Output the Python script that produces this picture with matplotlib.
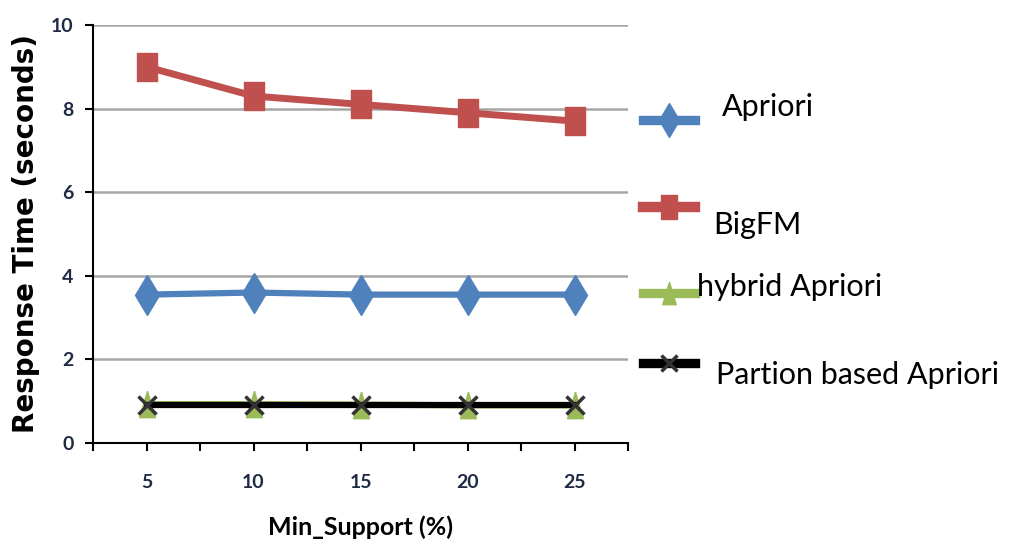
import matplotlib
matplotlib.use('Agg')
import matplotlib.pyplot as plt
from matplotlib.lines import Line2D

# data
min_support = [5, 10, 15, 20, 25]
apriori = [3.55, 3.6, 3.55, 3.55, 3.55]
bigfm = [9.0, 8.3, 8.1, 7.9, 7.7]
hybrid_apriori = [0.93, 0.93, 0.92, 0.9, 0.9]
partition_apriori = [0.9, 0.9, 0.9, 0.9, 0.9]
series_names = ['Apriori', 'BigFM', 'hybrid Apriori', 'Partion based Apriori']
y_ticks = [0, 2, 4, 6, 8, 10]

plt.rcParams['font.family'] = ['Lato', 'DejaVu Sans']

fig = plt.figure(figsize=(10.13, 5.59), dpi=100)
ax = fig.add_axes([0.0918, 0.2075, 0.5282, 0.7478])

# the original picture is stretched vertically, so markers are taller than wide
tall_square = [(-0.7, -1), (0.7, -1), (0.7, 1), (-0.7, 1), (-0.7, -1)]
tall_triangle = [(0, 1), (-0.6, -1), (0.6, -1), (0, 1)]
styles = [
    dict(color='#4F81BD', marker='d', markersize=20, lw=4.5),
    dict(color='#C0504D', marker=tall_square, markersize=20, lw=5),
    dict(color='#9BBB59', marker=tall_triangle, markersize=19, lw=4.5),
    dict(color='#000000', marker='x', markersize=13, lw=4.5, mew=2.5, mec='#333333'),
]
all_series = [apriori, bigfm, hybrid_apriori, partition_apriori]
for vals, st in zip(all_series, styles):
    ax.plot(min_support, vals, zorder=3, **st)

ax.set_xlim(2.5, 27.5)
ax.set_ylim(0, 10)
xt = [2.5 + 2.5 * i for i in range(11)]
ax.set_xticks(xt)
ax.set_xticklabels([str(int(v)) if v in min_support else '' for v in xt])
ax.set_yticks(y_ticks)
ax.yaxis.grid(True, color='#A6A6A6', lw=1.8)
ax.set_axisbelow(True)
for s in ['top', 'right']:
    ax.spines[s].set_visible(False)
ax.spines['left'].set_linewidth(1.5)
ax.spines['bottom'].set_linewidth(1.5)
ax.tick_params(axis='both', length=6, width=1.5, labelsize=14, colors='black')
ax.tick_params(axis='x', pad=16)
ax.tick_params(axis='y', pad=8)
for lbl in ax.get_xticklabels() + ax.get_yticklabels():
    lbl.set_color('#1f2a44')
    lbl.set_fontweight('bold')

ax.set_ylabel('Response Time (seconds)', fontsize=20, fontweight='bold', labelpad=8,
              family='DejaVu Sans')
ax.set_xlabel('Min_Support (%)', fontsize=18, fontweight='bold', labelpad=18)

# legend drawn beside the plot, with its uneven spacing
handle_y = [120, 207, 293, 363]
text_pos = [(722, 107), (713, 225), (697, 287), (716, 375)]
for name, st, hy, (tx, ty) in zip(series_names, styles, handle_y, text_pos):
    yf = 1 - hy / 559
    st2 = dict(st)
    st2['markersize'] = st['markersize'] * 0.85
    st2['lw'] = st['lw'] * 1.5
    fig.add_artist(Line2D([643 / 1013, 669 / 1013, 695 / 1013], [yf, yf, yf],
                          transform=fig.transFigure, markevery=[1], **st2))
    fig.text(tx / 1013, 1 - ty / 559, name, fontsize=22, va='center', ha='left')

fig.savefig('out.png', dpi=100, facecolor='white')
